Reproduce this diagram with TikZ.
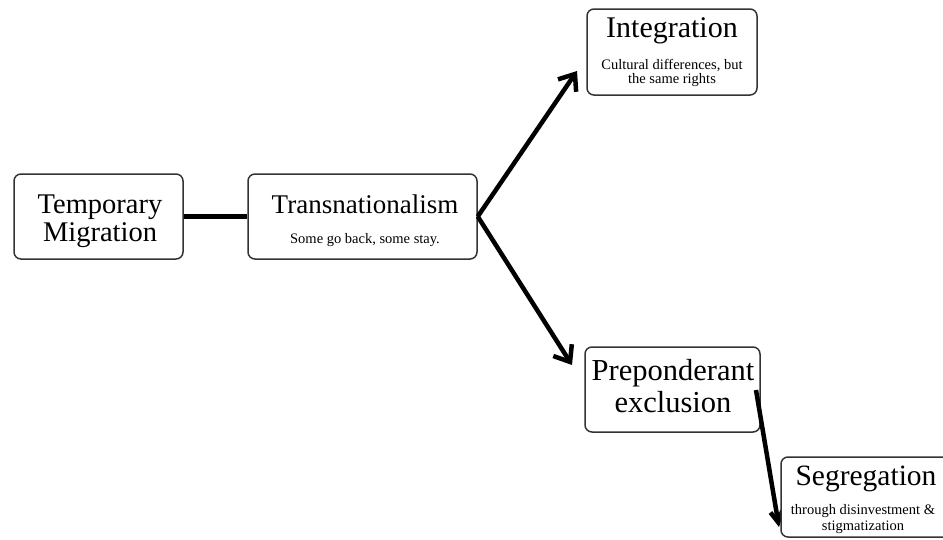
\documentclass[tikz,border=0pt]{standalone}
\usepackage{fontspec}
\setmainfont{Liberation Serif}
\usetikzlibrary{arrows.meta}
\begin{document}
\begin{tikzpicture}[x=1pt,y=-1pt,
 box/.style={draw=black!80, line width=1.5pt, rounded corners=7pt, fill=white, inner sep=0pt},
 conn/.style={line width=4.5pt, black},
 arr/.style={conn, -{Straight Barb[length=14pt,width=22pt]}},
 arrsmall/.style={conn, -{Straight Barb[length=11pt,width=12pt]}},
 ttl/.style={anchor=base, inner sep=0pt},
 sub/.style={anchor=base, inner sep=0pt, font=\fontsize{14.5}{16}\selectfont}]
\clip (0,0) rectangle (943,539);
% boxes
\node[box, minimum width=169pt, minimum height=85pt] (tm) at (98.5,216.5) {};
\node[box, minimum width=229pt, minimum height=85pt] (tr) at (362.5,216.5) {};
\node[box, minimum width=170pt, minimum height=86pt] (in) at (672,52) {};
\node[box, minimum width=175pt, minimum height=85pt] (pr) at (672.5,389.5) {};
% texts
\node[ttl, font=\fontsize{28.5}{30}\selectfont] (tm1) at (100,213) {Temporary};
\node[ttl, font=\fontsize{28.5}{30}\selectfont] (tm2) at (100,241) {Migration};
\node[ttl, font=\fontsize{27}{30}\selectfont] (tr1) at (365,213) {Transnationalism};
\node[sub] (tr2) at (365,243) {Some go back, some stay.};
\node[ttl, font=\fontsize{30}{32}\selectfont] (in1) at (672,37) {Integration};
\node[sub] (in2) at (672,69) {Cultural differences, but};
\node[sub] (in3) at (672,83) {the same rights};
\node[ttl, font=\fontsize{30.5}{32}\selectfont] (pr1) at (673,380) {Preponderant};
\node[ttl, font=\fontsize{30.5}{32}\selectfont] (pr2) at (673,412) {exclusion};
% connectors
\coordinate (a1e) at (577,71);
\coordinate (a2e) at (572,365);
\coordinate (a3s) at (756,390);
\coordinate (a3e) at (779,527);
\draw[conn] (tm.east) -- (tr.west);
\draw[arr] (tr.east) -- (a1e);
\draw[arr] (tr.east) -- (a2e);
\draw[arrsmall] (a3s) -- (a3e);
% segregation box on top
\node[box, minimum width=178pt, minimum height=80pt] (sg) at (870,497) {};
\node[ttl, font=\fontsize{29.5}{32}\selectfont] (sg1) at (866,485) {Segregation};
\node[sub] (sg2) at (863,514) {through disinvestment \&};
\node[sub] (sg3) at (863,530) {stigmatization};
\end{tikzpicture}
\end{document}
